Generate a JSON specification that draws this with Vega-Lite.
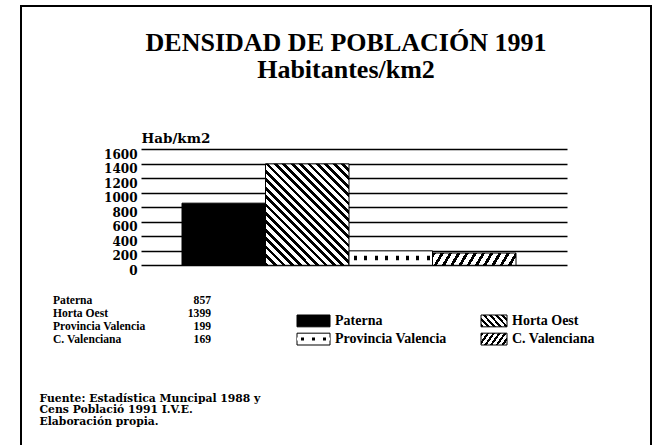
{
  "$schema": "https://vega.github.io/schema/vega-lite/v6.json",
  "width": 630,
  "height": 439,
  "autosize": {"type": "none"},
  "padding": {"left": 21, "top": 6, "right": 1, "bottom": 0},
  "background": "white",
  "config": {
    "view": {"stroke": "black", "strokeWidth": 2, "strokeDash": [1069, 630, 439]},
    "text": {"font": "Liberation Serif", "fontWeight": "bold", "fill": "black"}
  },
  "title": {
    "text": ["DENSIDAD DE POBLACIÓN 1991", "Habitantes/km2"],
    "anchor": "middle",
    "frame": "group",
    "offset": -77,
    "dx": 10,
    "font": "Liberation Serif",
    "fontSize": 26,
    "fontWeight": "bold",
    "lineHeight": 27,
    "color": "black"
  },
  "datasets": {
    "dens": [
      {"name": "Paterna", "value": 857},
      {"name": "Horta Oest", "value": 1399},
      {"name": "Provincia Valencia", "value": 199},
      {"name": "C. Valenciana", "value": 169}
    ]
  },
  "layer": [
    {
      "data": {"name": "dens"},
      "encoding": {
        "x": {
          "field": "name", "type": "nominal",
          "scale": {"domain": ["Paterna", "Horta Oest", "Provincia Valencia", "C. Valenciana"], "range": [161, 495], "paddingInner": 0, "paddingOuter": 0},
          "axis": {
            "orient": "bottom", "labels": false, "ticks": false, "domain": false, "grid": false,
            "title": ["Fuente: Estadística Muncipal 1988 y", "Cens Població 1991 I.V.E.", "Elaboración propia."],
            "titleX": 18, "titleY": -44, "titleAlign": "left", "titleAnchor": "start", "titleBaseline": "alphabetic", "titleAngle": 0,
            "titleFont": "DejaVu Serif", "titleFontSize": 10.8, "titleFontWeight": "bold", "titleColor": "black", "titleLineHeight": 11.5, "titlePadding": 0
          }
        },
        "y": {
          "field": "value", "type": "quantitative",
          "scale": {"domain": [0, 1600], "range": [259.3, 143.3], "nice": false},
          "axis": {
            "orient": "left", "offset": -546, "values": [0, 200, 400, 600, 800, 1000, 1200, 1400, 1600], "format": "d",
            "domain": false, "grid": false, "ticks": true, "tickSize": 426, "tickWidth": 1.5, "tickColor": "black",
            "labelPadding": 4, "labelFont": "DejaVu Serif", "labelFontWeight": "bold", "labelFontSize": 12, "labelColor": "black",
            "labelOffset": 5, "labelBaseline": "middle", "labelOverlap": false, "labelFlush": false, "labelBound": false,
            "title": "Hab/km2", "titleAngle": 0, "titleAlign": "left", "titleBaseline": "alphabetic", "titleX": -426, "titleY": 136.7,
            "titleFont": "DejaVu Serif", "titleFontSize": 13.5, "titleFontWeight": "bold", "titleColor": "black"
          }
        }
      },
      "layer": [
        {"transform": [{"filter": "datum.name === 'Paterna'"}], "mark": {"type": "bar", "fill": "black", "stroke": "black", "strokeWidth": 1}},
        {"transform": [{"filter": "datum.name === 'Horta Oest'"}], "mark": {"type": "bar", "stroke": "black", "strokeWidth": 1,
          "fill": {"gradient": "linear", "x1": 0, "y1": 1, "x2": 0.895, "y2": -0.0865, "stops": [
            {"offset": 0, "color": "#000"}, {"offset": 0.02045, "color": "#000"}, {"offset": 0.02045, "color": "#fff"}, {"offset": 0.04545, "color": "#fff"},
            {"offset": 0.04545, "color": "#000"}, {"offset": 0.0659, "color": "#000"}, {"offset": 0.0659, "color": "#fff"}, {"offset": 0.09091, "color": "#fff"},
            {"offset": 0.09091, "color": "#000"}, {"offset": 0.11136, "color": "#000"}, {"offset": 0.11136, "color": "#fff"}, {"offset": 0.13636, "color": "#fff"},
            {"offset": 0.13636, "color": "#000"}, {"offset": 0.15682, "color": "#000"}, {"offset": 0.15682, "color": "#fff"}, {"offset": 0.18182, "color": "#fff"},
            {"offset": 0.18182, "color": "#000"}, {"offset": 0.20227, "color": "#000"}, {"offset": 0.20227, "color": "#fff"}, {"offset": 0.22727, "color": "#fff"},
            {"offset": 0.22727, "color": "#000"}, {"offset": 0.24773, "color": "#000"}, {"offset": 0.24773, "color": "#fff"}, {"offset": 0.27273, "color": "#fff"},
            {"offset": 0.27273, "color": "#000"}, {"offset": 0.29318, "color": "#000"}, {"offset": 0.29318, "color": "#fff"}, {"offset": 0.31818, "color": "#fff"},
            {"offset": 0.31818, "color": "#000"}, {"offset": 0.33864, "color": "#000"}, {"offset": 0.33864, "color": "#fff"}, {"offset": 0.36364, "color": "#fff"},
            {"offset": 0.36364, "color": "#000"}, {"offset": 0.38409, "color": "#000"}, {"offset": 0.38409, "color": "#fff"}, {"offset": 0.40909, "color": "#fff"},
            {"offset": 0.40909, "color": "#000"}, {"offset": 0.42955, "color": "#000"}, {"offset": 0.42955, "color": "#fff"}, {"offset": 0.45455, "color": "#fff"},
            {"offset": 0.45455, "color": "#000"}, {"offset": 0.475, "color": "#000"}, {"offset": 0.475, "color": "#fff"}, {"offset": 0.5, "color": "#fff"},
            {"offset": 0.5, "color": "#000"}, {"offset": 0.52045, "color": "#000"}, {"offset": 0.52045, "color": "#fff"}, {"offset": 0.54545, "color": "#fff"},
            {"offset": 0.54545, "color": "#000"}, {"offset": 0.5659, "color": "#000"}, {"offset": 0.5659, "color": "#fff"}, {"offset": 0.59091, "color": "#fff"},
            {"offset": 0.59091, "color": "#000"}, {"offset": 0.61136, "color": "#000"}, {"offset": 0.61136, "color": "#fff"}, {"offset": 0.63636, "color": "#fff"},
            {"offset": 0.63636, "color": "#000"}, {"offset": 0.65682, "color": "#000"}, {"offset": 0.65682, "color": "#fff"}, {"offset": 0.68182, "color": "#fff"},
            {"offset": 0.68182, "color": "#000"}, {"offset": 0.70227, "color": "#000"}, {"offset": 0.70227, "color": "#fff"}, {"offset": 0.72727, "color": "#fff"},
            {"offset": 0.72727, "color": "#000"}, {"offset": 0.74773, "color": "#000"}, {"offset": 0.74773, "color": "#fff"}, {"offset": 0.77273, "color": "#fff"},
            {"offset": 0.77273, "color": "#000"}, {"offset": 0.79318, "color": "#000"}, {"offset": 0.79318, "color": "#fff"}, {"offset": 0.81818, "color": "#fff"},
            {"offset": 0.81818, "color": "#000"}, {"offset": 0.83864, "color": "#000"}, {"offset": 0.83864, "color": "#fff"}, {"offset": 0.86364, "color": "#fff"},
            {"offset": 0.86364, "color": "#000"}, {"offset": 0.88409, "color": "#000"}, {"offset": 0.88409, "color": "#fff"}, {"offset": 0.90909, "color": "#fff"},
            {"offset": 0.90909, "color": "#000"}, {"offset": 0.92955, "color": "#000"}, {"offset": 0.92955, "color": "#fff"}, {"offset": 0.95455, "color": "#fff"},
            {"offset": 0.95455, "color": "#000"}, {"offset": 0.975, "color": "#000"}, {"offset": 0.975, "color": "#fff"}, {"offset": 1, "color": "#fff"}
          ]}}},
        {"transform": [{"filter": "datum.name === 'Provincia Valencia'"}], "mark": {"type": "bar", "fill": "white", "stroke": "black", "strokeWidth": 1}},
        {"transform": [{"filter": "datum.name === 'Provincia Valencia'"}], "mark": {"type": "bar", "yOffset": 5, "y2Offset": -5, "xOffset": 1, "x2Offset": -1,
          "fill": {"gradient": "linear", "x1": 0, "y1": 0, "x2": 1, "y2": 0, "stops": [
            {"offset": 0, "color": "#fff"},
            {"offset": 0.045, "color": "#fff"}, {"offset": 0.045, "color": "#000"}, {"offset": 0.081, "color": "#000"}, {"offset": 0.081, "color": "#fff"},
            {"offset": 0.17, "color": "#fff"}, {"offset": 0.17, "color": "#000"}, {"offset": 0.206, "color": "#000"}, {"offset": 0.206, "color": "#fff"},
            {"offset": 0.295, "color": "#fff"}, {"offset": 0.295, "color": "#000"}, {"offset": 0.331, "color": "#000"}, {"offset": 0.331, "color": "#fff"},
            {"offset": 0.42, "color": "#fff"}, {"offset": 0.42, "color": "#000"}, {"offset": 0.456, "color": "#000"}, {"offset": 0.456, "color": "#fff"},
            {"offset": 0.545, "color": "#fff"}, {"offset": 0.545, "color": "#000"}, {"offset": 0.581, "color": "#000"}, {"offset": 0.581, "color": "#fff"},
            {"offset": 0.67, "color": "#fff"}, {"offset": 0.67, "color": "#000"}, {"offset": 0.706, "color": "#000"}, {"offset": 0.706, "color": "#fff"},
            {"offset": 0.795, "color": "#fff"}, {"offset": 0.795, "color": "#000"}, {"offset": 0.831, "color": "#000"}, {"offset": 0.831, "color": "#fff"},
            {"offset": 0.92, "color": "#fff"}, {"offset": 0.92, "color": "#000"}, {"offset": 0.956, "color": "#000"}, {"offset": 0.956, "color": "#fff"},
            {"offset": 1, "color": "#fff"}
          ]}},
          "encoding": {"y2": {"datum": 0}}},
        {"transform": [{"filter": "datum.name === 'C. Valenciana'"}], "mark": {"type": "bar", "stroke": "black", "strokeWidth": 1,
          "fill": {"gradient": "linear", "x1": 0, "y1": 0, "x2": 1.0782, "y2": 0.093, "stops": [
            {"offset": 0, "color": "#000"}, {"offset": 0.03636, "color": "#000"}, {"offset": 0.03636, "color": "#fff"}, {"offset": 0.09091, "color": "#fff"},
            {"offset": 0.09091, "color": "#000"}, {"offset": 0.12727, "color": "#000"}, {"offset": 0.12727, "color": "#fff"}, {"offset": 0.18182, "color": "#fff"},
            {"offset": 0.18182, "color": "#000"}, {"offset": 0.21818, "color": "#000"}, {"offset": 0.21818, "color": "#fff"}, {"offset": 0.27273, "color": "#fff"},
            {"offset": 0.27273, "color": "#000"}, {"offset": 0.30909, "color": "#000"}, {"offset": 0.30909, "color": "#fff"}, {"offset": 0.36364, "color": "#fff"},
            {"offset": 0.36364, "color": "#000"}, {"offset": 0.4, "color": "#000"}, {"offset": 0.4, "color": "#fff"}, {"offset": 0.45455, "color": "#fff"},
            {"offset": 0.45455, "color": "#000"}, {"offset": 0.49091, "color": "#000"}, {"offset": 0.49091, "color": "#fff"}, {"offset": 0.54545, "color": "#fff"},
            {"offset": 0.54545, "color": "#000"}, {"offset": 0.58182, "color": "#000"}, {"offset": 0.58182, "color": "#fff"}, {"offset": 0.63636, "color": "#fff"},
            {"offset": 0.63636, "color": "#000"}, {"offset": 0.67273, "color": "#000"}, {"offset": 0.67273, "color": "#fff"}, {"offset": 0.72727, "color": "#fff"},
            {"offset": 0.72727, "color": "#000"}, {"offset": 0.76364, "color": "#000"}, {"offset": 0.76364, "color": "#fff"}, {"offset": 0.81818, "color": "#fff"},
            {"offset": 0.81818, "color": "#000"}, {"offset": 0.85455, "color": "#000"}, {"offset": 0.85455, "color": "#fff"}, {"offset": 0.90909, "color": "#fff"},
            {"offset": 0.90909, "color": "#000"}, {"offset": 0.94545, "color": "#000"}, {"offset": 0.94545, "color": "#fff"}, {"offset": 1, "color": "#fff"}
          ]}}}
      ]
    },
    {
      "data": {"name": "dens"},
      "encoding": {
        "y": {"field": "name", "type": "nominal", "scale": {"type": "point", "domain": ["Paterna", "Horta Oest", "Provincia Valencia", "C. Valenciana"], "range": [295, 333.7], "padding": 0}, "axis": null}
      },
      "layer": [
        {"mark": {"type": "text", "align": "left", "baseline": "middle", "fontSize": 11.6},
         "encoding": {"x": {"datum": 0, "type": "quantitative", "scale": {"domain": [0, 1], "range": [32, 190]}, "axis": null}, "text": {"field": "name"}}},
        {"mark": {"type": "text", "align": "right", "baseline": "middle", "fontSize": 11.6},
         "encoding": {"x": {"datum": 1, "type": "quantitative", "scale": {"domain": [0, 1], "range": [32, 190]}, "axis": null}, "text": {"field": "value", "type": "quantitative", "format": "d"}}}
      ]
    },
    {
      "data": {"name": "dens"},
      "encoding": {
        "y": {"field": "name", "type": "nominal", "scale": {"type": "band", "domain": ["Paterna", "Provincia Valencia"], "range": [309, 339], "paddingInner": 0.35, "paddingOuter": 0}, "axis": null},
        "x": {"datum": 0, "type": "quantitative", "scale": {"domain": [0, 1], "range": [276, 309]}, "axis": null}
      },
      "layer": [
        {"transform": [{"filter": "datum.name === 'Paterna'"}], "mark": {"type": "rect", "fill": "black", "stroke": "black", "strokeWidth": 1}, "encoding": {"x2": {"datum": 1}}},
        {"transform": [{"filter": "datum.name === 'Provincia Valencia'"}], "mark": {"type": "rect", "fill": "white", "stroke": "black", "strokeWidth": 1}, "encoding": {"x2": {"datum": 1}}},
        {"transform": [{"filter": "datum.name === 'Provincia Valencia'"}], "mark": {"type": "bar", "orient": "horizontal", "size": 3,
          "fill": {"gradient": "linear", "x1": 0, "y1": 0, "x2": 1, "y2": 0, "stops": [
            {"offset": 0, "color": "#fff"},
            {"offset": 0.12, "color": "#fff"}, {"offset": 0.12, "color": "#000"}, {"offset": 0.21, "color": "#000"}, {"offset": 0.21, "color": "#fff"},
            {"offset": 0.45, "color": "#fff"}, {"offset": 0.45, "color": "#000"}, {"offset": 0.54, "color": "#000"}, {"offset": 0.54, "color": "#fff"},
            {"offset": 0.78, "color": "#fff"}, {"offset": 0.78, "color": "#000"}, {"offset": 0.87, "color": "#000"}, {"offset": 0.87, "color": "#fff"},
            {"offset": 1, "color": "#fff"}
          ]}},
          "encoding": {"x2": {"datum": 1}}},
        {"transform": [{"filter": {"field": "name", "oneOf": ["Paterna", "Provincia Valencia"]}}], "mark": {"type": "text", "align": "left", "baseline": "middle", "dx": 5, "fontSize": 14},
         "encoding": {"x": {"datum": 1, "type": "quantitative"}, "text": {"field": "name"}}}
      ]
    },
    {
      "data": {"name": "dens"},
      "encoding": {
        "y": {"field": "name", "type": "nominal", "scale": {"type": "band", "domain": ["Horta Oest", "C. Valenciana"], "range": [309, 339], "paddingInner": 0.35, "paddingOuter": 0}, "axis": null},
        "x": {"datum": 0, "type": "quantitative", "scale": {"domain": [0, 1], "range": [460, 486]}, "axis": null}
      },
      "layer": [
        {"transform": [{"filter": "datum.name === 'Horta Oest'"}], "mark": {"type": "rect", "stroke": "black", "strokeWidth": 1,
          "fill": {"gradient": "linear", "x1": 0, "y1": 1, "x2": 1.207, "y2": 0.489, "stops": [
            {"offset": 0, "color": "#000"}, {"offset": 0.075, "color": "#000"}, {"offset": 0.075, "color": "#fff"}, {"offset": 0.16667, "color": "#fff"},
            {"offset": 0.16667, "color": "#000"}, {"offset": 0.24167, "color": "#000"}, {"offset": 0.24167, "color": "#fff"}, {"offset": 0.33333, "color": "#fff"},
            {"offset": 0.33333, "color": "#000"}, {"offset": 0.40833, "color": "#000"}, {"offset": 0.40833, "color": "#fff"}, {"offset": 0.5, "color": "#fff"},
            {"offset": 0.5, "color": "#000"}, {"offset": 0.575, "color": "#000"}, {"offset": 0.575, "color": "#fff"}, {"offset": 0.66667, "color": "#fff"},
            {"offset": 0.66667, "color": "#000"}, {"offset": 0.74167, "color": "#000"}, {"offset": 0.74167, "color": "#fff"}, {"offset": 0.83333, "color": "#fff"},
            {"offset": 0.83333, "color": "#000"}, {"offset": 0.90833, "color": "#000"}, {"offset": 0.90833, "color": "#fff"}, {"offset": 1, "color": "#fff"}
          ]}},
          "encoding": {"x2": {"datum": 1}}},
        {"transform": [{"filter": "datum.name === 'C. Valenciana'"}], "mark": {"type": "rect", "stroke": "black", "strokeWidth": 1,
          "fill": {"gradient": "linear", "x1": 0, "y1": 0, "x2": 1.1985, "y2": 0.39, "stops": [
            {"offset": 0, "color": "#000"}, {"offset": 0.075, "color": "#000"}, {"offset": 0.075, "color": "#fff"}, {"offset": 0.16667, "color": "#fff"},
            {"offset": 0.16667, "color": "#000"}, {"offset": 0.24167, "color": "#000"}, {"offset": 0.24167, "color": "#fff"}, {"offset": 0.33333, "color": "#fff"},
            {"offset": 0.33333, "color": "#000"}, {"offset": 0.40833, "color": "#000"}, {"offset": 0.40833, "color": "#fff"}, {"offset": 0.5, "color": "#fff"},
            {"offset": 0.5, "color": "#000"}, {"offset": 0.575, "color": "#000"}, {"offset": 0.575, "color": "#fff"}, {"offset": 0.66667, "color": "#fff"},
            {"offset": 0.66667, "color": "#000"}, {"offset": 0.74167, "color": "#000"}, {"offset": 0.74167, "color": "#fff"}, {"offset": 0.83333, "color": "#fff"},
            {"offset": 0.83333, "color": "#000"}, {"offset": 0.90833, "color": "#000"}, {"offset": 0.90833, "color": "#fff"}, {"offset": 1, "color": "#fff"}
          ]}},
          "encoding": {"x2": {"datum": 1}}},
        {"transform": [{"filter": {"field": "name", "oneOf": ["Horta Oest", "C. Valenciana"]}}], "mark": {"type": "text", "align": "left", "baseline": "middle", "dx": 5, "fontSize": 14},
         "encoding": {"x": {"datum": 1, "type": "quantitative"}, "text": {"field": "name"}}}
      ]
    }
  ],
  "resolve": {"scale": {"x": "independent", "y": "independent"}}
}
